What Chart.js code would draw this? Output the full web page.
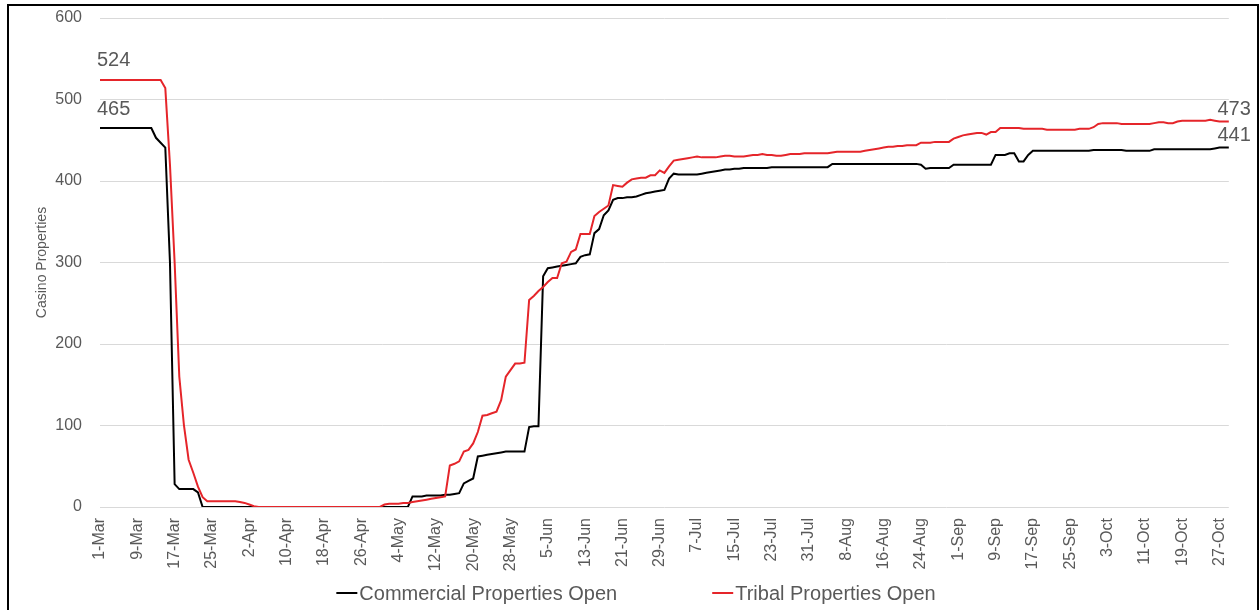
<!DOCTYPE html>
<html><head><meta charset="utf-8">
<script src="https://cdn.jsdelivr.net/npm/chart.js@4"></script>
<style>
html,body{margin:0;padding:0;background:#fff;}
#wrap{position:relative;width:1259px;height:610px;overflow:hidden;}
#frame{position:absolute;left:7px;top:4px;width:1252px;height:640px;box-sizing:border-box;border:2px solid #000;pointer-events:none;}
canvas{display:block;}
</style></head><body>
<div id="wrap"><canvas id="c" width="1259" height="610"></canvas><div id="frame"></div></div>
<script>
// ---- data ----
const monthNames = ['Mar','Apr','May','Jun','Jul','Aug','Sep','Oct'];
const monthDays  = [31,30,31,30,31,31,30,29];
const categories = [];
monthNames.forEach((m,i)=>{ for(let d=1; d<=monthDays[i]; d++) categories.push(d+'-'+m); });

const tickLabels = ['1-Mar','9-Mar','17-Mar','25-Mar','2-Apr','10-Apr','18-Apr','26-Apr','4-May','12-May','20-May','28-May','5-Jun','13-Jun','21-Jun','29-Jun','7-Jul','15-Jul','23-Jul','31-Jul','8-Aug','16-Aug','24-Aug','1-Sep','9-Sep','17-Sep','25-Sep','3-Oct','11-Oct','19-Oct','27-Oct'];
const yTicks = [0,100,200,300,400,500,600];

const commercialOpen = [
 465,465,465,465,465,465,465,465,465,465,465,465,
 453,447,441,300,28,22,22,22,22,18,
 0,0,0,0,0,0,0,0,0,0,0,0,0,0,0,0,0,0,0,0,0,0,0,0,0,0,0,0,0,0,0,0,0,0,0,0,0,0,0,0,0,0,0,0,0,
 13,13,13,14,14,14,14,15,15,16,17,
 29,32,35,62,63,64,65,66,67,68,68,68,68,68,
 98,99,99,283,293,294,295,296,297,298,299,307,309,310,
 336,341,358,364,377,379,379,380,380,381,383,385,386,387,388,389,
 403,409,408,408,408,408,408,409,410,411,412,413,414,414,415,415,
 416,416,416,416,416,416,
 417,417,417,417,417,417,417,417,417,417,417,417,417,
 421,421,421,421,421,421,421,421,421,421,421,421,421,421,421,421,421,421,421,
 420,415,416,416,416,416,416,
 420,420,420,420,420,420,420,420,420,
 432,432,432,434,434,424,424,432,
 437,437,437,437,437,437,437,437,437,437,437,437,437,
 438,438,438,438,438,438,438,
 437,437,437,437,437,437,
 439,439,439,439,439,439,439,439,439,439,439,439,439,440,441,441,441
];
const tribalOpen = [
 524,524,524,524,524,524,524,524,524,524,524,524,524,524,
 514,420,300,160,100,58,42,25,12,
 7,7,7,7,7,7,7,
 6,5,3,1,
 0,0,0,0,0,0,0,0,0,0,0,0,0,0,0,0,0,0,0,0,0,0,0,0,0,0,0,
 3,4,4,4,5,5,6,7,8,9,10,11,12,13,
 51,53,56,68,70,78,92,112,113,115,117,131,160,168,176,176,177,
 254,259,265,270,276,281,281,
 299,301,313,316,335,335,335,
 357,362,366,370,395,394,393,398,402,403,404,404,407,407,413,410,418,425,426,427,428,429,430,
 429,429,429,429,430,431,431,430,430,430,
 431,432,432,433,432,432,431,431,
 432,433,433,433,434,434,434,434,434,434,
 435,436,436,436,436,436,436,437,438,439,
 440,441,442,442,443,443,444,444,444,
 447,447,447,448,448,448,448,
 452,454,456,457,458,459,459,457,460,460,
 465,465,465,465,465,464,464,464,464,464,463,463,463,463,
 463,463,463,464,464,464,
 466,470,471,471,471,471,470,470,
 470,470,470,470,470,471,472,
 472,471,471,473,
 474,474,474,474,474,474,475,
 474,473,473,473
];
const seriesNames = ['Commercial Properties Open','Tribal Properties Open'];
const yTitle = 'Casino Properties';

// ---- styling ----
const FONT = '"Liberation Sans", Arial, sans-serif';
const GREY = '#595959';
const COLORS = ['#000000','#e5252a'];

const extras = {
  id:'extras',
  afterDraw(chart){
    const {ctx, chartArea, scales:{x,y}} = chart;
    // y-axis title
    ctx.save();
    ctx.fillStyle = GREY;
    ctx.font = '14px ' + FONT;
    ctx.translate(42, (chartArea.top + chartArea.bottom)/2);
    ctx.rotate(-Math.PI/2);
    ctx.textAlign = 'center'; ctx.textBaseline = 'middle';
    ctx.fillText(yTitle, 0, 0);
    ctx.restore();
    // first / last value labels
    ctx.save();
    ctx.fillStyle = GREY;
    ctx.font = '20px ' + FONT;
    ctx.textBaseline = 'middle';
    chart.data.datasets.forEach(ds=>{
      const n = ds.data.length;
      const first = ds.data[0], last = ds.data[n-1];
      ctx.textAlign = 'left';
      ctx.fillText(String(first), x.getPixelForValue(0) - 3, y.getPixelForValue(first) - 19);
      ctx.textAlign = 'right';
      ctx.fillText(String(last), x.getPixelForValue(n-1) + 22, y.getPixelForValue(last) - 12);
    });
    ctx.restore();
    // legend
    ctx.save();
    ctx.font = '20px ' + FONT;
    ctx.textBaseline = 'middle';
    ctx.textAlign = 'left';
    const lineW = 21, gapTxt = 2, gapItem = 95, ly = 593;
    const widths = chart.data.datasets.map(ds => lineW + gapTxt + ctx.measureText(ds.label).width);
    const total = widths.reduce((a,b)=>a+b,0) + gapItem*(widths.length-1);
    let lx = 636 - total/2;
    chart.data.datasets.forEach((ds,i)=>{
      ctx.strokeStyle = ds.borderColor; ctx.lineWidth = 2;
      ctx.beginPath(); ctx.moveTo(lx, ly); ctx.lineTo(lx+lineW, ly); ctx.stroke();
      ctx.fillStyle = GREY;
      ctx.fillText(ds.label, lx + lineW + gapTxt, ly + 1);
      lx += widths[i] + gapItem;
    });
    ctx.restore();
  }
};

new Chart(document.getElementById('c'), {
  type:'line',
  data:{
    labels: categories,
    datasets:[
      {label:seriesNames[0], data:commercialOpen, borderColor:COLORS[0], backgroundColor:COLORS[0], borderWidth:2, pointRadius:0, tension:0, fill:false, order:1},
      {label:seriesNames[1], data:tribalOpen, borderColor:COLORS[1], backgroundColor:COLORS[1], borderWidth:2, pointRadius:0, tension:0, fill:false, order:0}
    ]
  },
  options:{
    responsive:false, animation:false, devicePixelRatio:1,
    layout:{padding:{top:18, right:29, left:0, bottom:0}},
    plugins:{legend:{display:false}, tooltip:{enabled:false}},
    scales:{
      x:{
        type:'category', offset:false,
        grid:{display:false, drawTicks:false}, border:{display:false},
        ticks:{autoSkip:false, maxRotation:90, minRotation:90, padding:11, color:GREY, font:{family:FONT, size:16},
          callback(v){ const l = this.getLabelForValue(v); return tickLabels.includes(l) ? l : ''; }},
        afterFit(s){ s.height = 103; }
      },
      y:{
        min:yTicks[0], max:yTicks[yTicks.length-1],
        afterBuildTicks(s){ s.ticks = yTicks.map(v=>({value:v})); },
        ticks:{padding:0, color:GREY, font:{family:FONT, size:16}},
        grid:{color:'#d9d9d9', lineWidth:1, drawTicks:true, tickLength:18, tickColor:'rgba(0,0,0,0)'}, border:{display:false},
        afterFit(s){ s.width = 100; }
      }
    }
  },
  plugins:[extras]
});
</script>
</body></html>
